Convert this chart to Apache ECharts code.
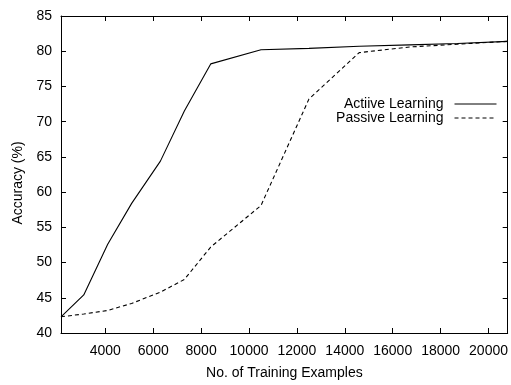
<!DOCTYPE html>
<html>
<head>
<meta charset="utf-8">
<script src="https://cdn.jsdelivr.net/npm/echarts@6/dist/echarts.min.js"></script>
<style>
  html, body { margin: 0; padding: 0; background: #fff; }
  #chart { width: 511px; height: 385px; }
</style>
</head>
<body>
<div id="chart"></div>
<script>
// Training set sizes at which accuracy was measured
const trainingSizes = [2150, 3100, 4100, 5100, 6300, 7300, 8400, 10500, 12500, 14600, 16700, 18700, 20800];
// Accuracy (%) for each learning strategy
const activeAccuracy  = [42.3, 45.4, 52.6, 58.4, 64.4, 71.5, 78.2, 80.2, 80.4, 80.7, 80.9, 81.1, 81.4];
const passiveAccuracy = [42.3, 42.7, 43.2, 44.2, 45.8, 47.6, 52.2, 58.1, 73.2, 79.8, 80.6, 81.0, 81.4];
// Axis ticks
const xTicks = [4000, 6000, 8000, 10000, 12000, 14000, 16000, 18000, 20000];
const xRange = [2150, 20800];
const yRange = [40, 85];

const FONT = 'Liberation Sans';
const INK = '#000';

const chart = echarts.init(document.getElementById('chart'), null, { renderer: 'canvas' });

const pairs = (xs, ys) => xs.map((x, i) => [x, ys[i]]);

const xBase = {
  type: 'value', min: xRange[0], max: xRange[1],
  splitLine: { show: false },
  axisLine: { show: true, onZero: false, lineStyle: { color: INK, width: 1 } },
  axisTick: { show: true, inside: true, length: 5, customValues: xTicks, lineStyle: { color: INK } },
};
const yBase = {
  type: 'value', min: yRange[0], max: yRange[1], interval: 5,
  splitLine: { show: false },
  axisLine: { show: true, onZero: false, lineStyle: { color: INK, width: 1 } },
  axisTick: { show: true, inside: true, length: 5, lineStyle: { color: INK } },
};

const legendBase = {
  right: 14, align: 'right', padding: 0,
  itemWidth: 42, itemHeight: 14, itemGap: 0,
  itemStyle: { opacity: 0 },
  lineStyle: { width: 1 },
  textStyle: { fontFamily: FONT, fontSize: 14, color: INK, padding: [0, 6, 0, 0] },
};

chart.setOption({
  animation: false,
  backgroundColor: '#fff',
  grid: { left: 61, right: 2, top: 16, bottom: 48, show: false },
  legend: [
    Object.assign({}, legendBase, { data: ['Actiive Learning'], top: 97 }),
    Object.assign({}, legendBase, { data: ['Passive Learning'], top: 111 }),
  ],
  xAxis: [
    Object.assign({}, xBase, {
      position: 'bottom',
      name: 'No. of Training Examples', nameLocation: 'middle', nameGap: 33,
      nameTextStyle: { fontFamily: FONT, fontSize: 14, color: INK },
      axisLabel: {
        customValues: xTicks, margin: 11, fontFamily: FONT, fontSize: 14, color: INK,
        formatter: (v) => String(v),
      },
    }),
    Object.assign({}, xBase, { position: 'top', axisLabel: { show: false } }),
  ],
  yAxis: [
    Object.assign({}, yBase, {
      position: 'left',
      name: 'Accuracy (%)', nameLocation: 'middle', nameGap: 32,
      nameTextStyle: { fontFamily: FONT, fontSize: 14, color: INK, padding: [0, 17, 0, 0] },
      axisLabel: { margin: 9, fontFamily: FONT, fontSize: 14, color: INK },
    }),
    Object.assign({}, yBase, { position: 'right', axisLabel: { show: false } }),
  ],
  series: [
    {
      name: 'Actiive Learning', type: 'line', symbol: 'none',
      xAxisIndex: 0, yAxisIndex: 0,
      data: pairs(trainingSizes, activeAccuracy),
      lineStyle: { color: INK, width: 1.1, type: 'solid' },
      itemStyle: { color: INK },
    },
    {
      name: 'Passive Learning', type: 'line', symbol: 'none',
      xAxisIndex: 0, yAxisIndex: 0,
      data: pairs(trainingSizes, passiveAccuracy),
      lineStyle: { color: INK, width: 1.1, type: [4, 3] },
      itemStyle: { color: INK },
    },
  ],
});
</script>
</body>
</html>
